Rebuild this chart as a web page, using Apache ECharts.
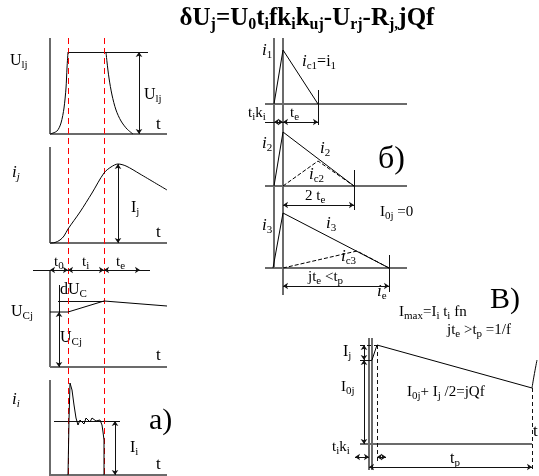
<!DOCTYPE html>
<html>
<head>
<meta charset="utf-8">
<script src="https://cdn.jsdelivr.net/npm/echarts@6/dist/echarts.min.js"></script>
<style>
  html, body { margin: 0; padding: 0; background: #fff; }
  #main { width: 539px; height: 476px; }
</style>
</head>
<body>
<div id="main"></div>
<script>
// diagram drawn on a hidden value/value grid, 1 unit = 1 px, y downwards

// a) curves
const ulRise = [[50,134],[57,131],[61,123],[64,108],[66,88],[67,68],[68,52]];
const ulFall = [[106,52],[107,62],[109,78],[112,95],[116,110],[121,121],[127,129],[133,134]];
const ijCurve = [[50,243],[55,242.5],[60,240],[64,236],[68,229],[80,212],[92,193],[104,173],[111,167],[118,164],[126,166],[140,174],[167,190]];
const ucjCurve = [[50,312],[68,312],[104,301],[167,306]];
const iiCurve = [[68,475],[69,420],[70,383],[72,390],[74,405],[76,418],[78,425],[80,420],[82,419],[84,424],[86,418],[88,417],[90,422],[92,418],[94,418],[96,421],[100,420],[102,425],[103,432],[104,440],[104,475]];

// б) curves
const i1Curve = [[274,104],[283,50],[318,104]];
const i2Curve = [[274,186],[283,132],[354,186]];
const ic2Curve = [[283,186],[318,161],[354,186]];
const i3Curve = [[273,268],[283,213],[389,268]];
const ic3Curve = [[283,268],[357,251],[389,268]];

// В) curves
const vTopCurve = [[372,360],[377,345],[532,388]];
const vEdgeCurve = [[532,388],[534,376],[537,360]];

// axes / frames
const axisSegs = [
  [[50,38],[50,134]], [[50,134],[167,134]],
  [[50,147],[50,243]], [[50,243],[167,243]],
  [[50,270],[50,367]], [[50,367],[167,367]],
  [[50,380],[50,476]], [[50,475],[167,475]],
  [[274,38],[274,268]], [[283,38],[283,295]],
  [[265,104],[407,104]], [[265,186],[407,186]], [[265,268],[407,268]],
  [[369,338],[369,470]], [[372,338],[372,470]], [[360,444],[532,444]]
];
const thinSegs = [
  [[68,52],[148,52]], [[33,270],[150,270]],
  [[58,301],[104,301]], [[54,421],[120,421]], [[59,285],[59,312]],
  [[318,90],[318,125]], [[354,170],[354,210]], [[389,255],[389,292]],
  [[265,122],[274,122]], [[360,360],[372,360]]
];
const redGuides = [[[68,38],[68,476]], [[104,38],[104,476]]];
const dashSegs = [[[377,345],[377,462]], [[532,388],[532,470]], [[360,345],[377,345]]];
const arrowSegs = [
  [[139,52],[139,134]], [[118,164],[118,243]],
  [[50,270],[68,270]], [[68,270],[104,270]], [[104,270],[140,270]],
  [[59,312],[59,367]], [[115,421],[115,475]],
  [[274,122],[283,122]], [[283,122],[318,122]],
  [[283,205],[354,205]], [[283,286],[389,286]],
  [[364,345],[364,360]], [[364,360],[364,444]],
  [[369,467],[532,467]], [[355,457],[369,457]], [[377,457],[386,457]]
];

const chart = echarts.init(document.getElementById('main'), null, { renderer: 'canvas' });

const FF = '"Liberation Serif", "DejaVu Serif", serif';
const rich = {
  s: { fontSize: 11, fontFamily: FF, padding: [9, 0, 0, 0] },
  si: { fontSize: 11, fontFamily: FF, fontStyle: 'italic', padding: [9, 0, 0, 0] },
  it: { fontSize: 17, fontFamily: FF, fontStyle: 'italic' },
  tb: { fontSize: 25, fontFamily: FF, fontWeight: 'bold' },
  tbs: { fontSize: 16, fontFamily: FF, fontWeight: 'bold', padding: [11, 0, 0, 0] }
};

function lbl(x, y, text, size, align) {
  return {
    type: 'text', x: x, y: y, silent: true,
    style: {
      text: text, fontSize: size || 16, fontFamily: FF, fill: '#000',
      align: align || 'left', verticalAlign: 'middle', rich: rich
    }
  };
}

function segSeries(segs, color, width, type, arrows) {
  return {
    type: 'lines', coordinateSystem: 'cartesian2d', polyline: false,
    symbol: arrows ? ['arrow', 'arrow'] : ['none', 'none'], symbolSize: 5,
    lineStyle: { color: color, width: width, type: type, opacity: 1 },
    data: segs.map(s => ({ coords: s })), silent: true, z: 2
  };
}

function curve(data, dashed, smooth) {
  return {
    type: 'line', data: data, showSymbol: false, smooth: smooth || false,
    lineStyle: { color: '#000', width: 1, type: dashed ? 'dashed' : 'solid' },
    silent: true, z: 3
  };
}

const option = {
  animation: false,
  grid: { left: 0, top: 0, width: 539, height: 476 },
  xAxis: { type: 'value', min: 0, max: 539, show: false },
  yAxis: { type: 'value', min: 0, max: 476, inverse: true, show: false },
  series: [
    segSeries(axisSegs, '#6b6b6b', 2, 'solid'),
    segSeries(thinSegs, '#111', 1, 'solid'),
    segSeries(redGuides, '#ff0000', 1, [6, 4]),
    segSeries(dashSegs, '#111', 1, [4, 3]),
    segSeries(arrowSegs, '#111', 1, 'solid', true),
    curve(ulRise, false, 0.3), curve(ulFall, false, 0.3),
    curve(ijCurve, false, 0.3), curve(ucjCurve), curve(iiCurve),
    curve(i1Curve), curve(i2Curve), curve(ic2Curve, true), curve(i3Curve), curve(ic3Curve, true),
    curve(vTopCurve), curve(vEdgeCurve, false, 0.4)
  ],
  graphic: [
    lbl(307, 19, '{tb|δU}{tbs|j}{tb|=U}{tbs|0}{tb|t}{tbs|i}{tb|fk}{tbs|i}{tb|k}{tbs|uj}{tb|-U}{tbs|rj}{tb|-R}{tbs|j,}{tb|jQf}', 25, 'center'),
    // a)
    lbl(10, 61, 'U{s|lj}'), lbl(144, 95, 'U{s|lj}'), lbl(156, 125, 't', 17),
    lbl(12, 173, '{it|i}{si|j}'), lbl(131, 208, 'I{s|j}'), lbl(156, 233, 't', 17),
    lbl(54, 262, 't{s|0}', 15), lbl(82, 262, 't{s|i}', 15), lbl(116, 262, 't{s|e}', 15),
    lbl(60, 290, 'dU{s|C}'), lbl(60, 338, 'U{s|Cj}'), lbl(11, 312, 'U{s|Cj}'), lbl(156, 356, 't', 17),
    lbl(12, 400, '{it|i}{si|i}'), lbl(130, 448, 'I{s|i}'), lbl(149, 421, 'a)', 30), lbl(156, 465, 't', 17),
    // б)
    lbl(262, 51, '{it|i}{s|1}'), lbl(302, 62, '{it|i}{s|c1}=i{s|1}'),
    lbl(248, 113, 't{s|i}k{s|i}', 15), lbl(290, 113, 't{s|e}', 15),
    lbl(378, 160, 'б)', 32),
    lbl(262, 144, '{it|i}{s|2}'), lbl(320, 149, '{it|i}{s|2}'), lbl(309, 175, '{it|i}{s|c2}'), lbl(305, 196, '2 t{s|e}', 15),
    lbl(380, 212, 'I{s|0j} =0', 15),
    lbl(262, 226, '{it|i}{s|3}'), lbl(326, 224, '{it|i}{s|3}'), lbl(341, 257, '{it|i}{s|c3}'), lbl(308, 277, 'jt{s|e} <t{s|p}', 15),
    // В)
    lbl(490, 300, 'В)', 30), lbl(399, 312, 'I{s|max}=I{s|i} t{s|i} fn', 15),
    lbl(377, 292, '{it|i}{s|e}'), lbl(447, 330, 'jt{s|e} >t{s|p} =1/f', 15),
    lbl(343, 352, 'I{s|j}'), lbl(341, 387, 'I{s|0j}', 15), lbl(407, 392, 'I{s|0j}+ I{s|j} /2=jQf', 15),
    lbl(533, 432, 't', 17), lbl(332, 447, 't{s|i}k{s|i}', 15), lbl(450, 459, 't{s|p}', 16)
  ]
};

chart.setOption(option);
</script>
</body>
</html>
